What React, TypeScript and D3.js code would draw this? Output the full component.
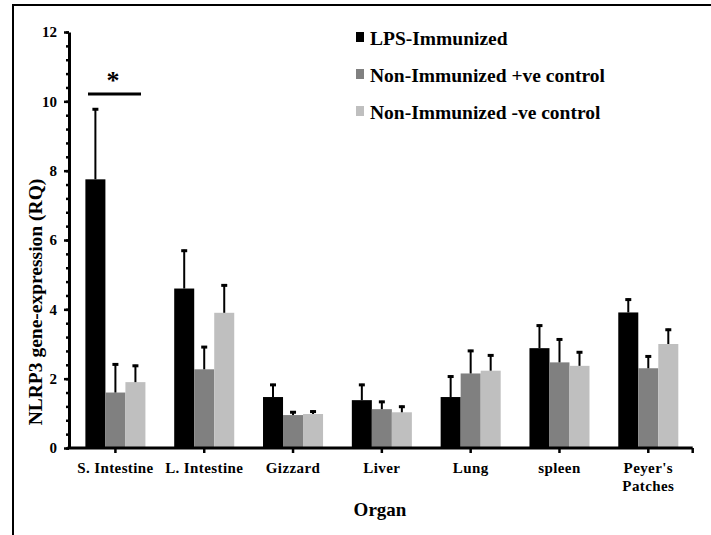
import React, { useEffect, useRef } from 'react';
import * as d3 from 'd3';

const organs = ['S. Intestine', 'L. Intestine', 'Gizzard', 'Liver', 'Lung', 'spleen', "Peyer's Patches"];
const tickLabels = [['S. Intestine'], ['L. Intestine'], ['Gizzard'], ['Liver'], ['Lung'], ['spleen'], ["Peyer's", 'Patches']];

const seriesNames = ['LPS-Immunized', 'Non-Immunized +ve control', 'Non-Immunized -ve control'];
const seriesColors = ['#000000', '#808080', '#bfbfbf'];

const lpsValues = [7.75, 4.6, 1.47, 1.38, 1.47, 2.88, 3.91];
const lpsErrors = [2.05, 1.12, 0.38, 0.47, 0.62, 0.68, 0.4];
const posValues = [1.6, 2.27, 0.95, 1.12, 2.15, 2.47, 2.3];
const posErrors = [0.84, 0.67, 0.11, 0.24, 0.68, 0.69, 0.37];
const negValues = [1.9, 3.9, 0.98, 1.03, 2.23, 2.37, 3.0];
const negErrors = [0.5, 0.82, 0.1, 0.19, 0.47, 0.42, 0.44];

const yMajorTicks = [0, 2, 4, 6, 8, 10, 12];

const App = () => {
  const ref = useRef<SVGSVGElement>(null);

  useEffect(() => {
    const svg = d3.select(ref.current);
    svg.selectAll('*').remove();

    const width = 711;
    const height = 535;
    const font = "'Liberation Serif', 'Times New Roman', serif";

    svg.attr('width', width).attr('height', height);

    // outer frame (top and left only)
    svg.append('path')
      .attr('d', `M13,${height} L13,5 L${width},5`)
      .attr('fill', 'none')
      .attr('stroke', '#000')
      .attr('stroke-width', 2);

    const x = d3.scaleBand()
      .domain(organs)
      .range([71, 692.7])
      .paddingInner(0.324)
      .paddingOuter(0.162);

    const xs = d3.scaleBand()
      .domain(seriesNames)
      .range([0, x.bandwidth()]);

    const y = d3.scaleLinear()
      .domain([0, 12])
      .range([448, 32]);

    const values = [lpsValues, posValues, negValues];
    const errors = [lpsErrors, posErrors, negErrors];

    const rows = organs.flatMap((organ, i) =>
      seriesNames.map((s, j) => ({ organ, s, j, v: values[j][i], e: errors[j][i] }))
    );

    const g = svg.append('g');

    // bars
    g.selectAll('rect.bar')
      .data(rows)
      .enter()
      .append('rect')
      .attr('class', 'bar')
      .attr('x', d => (x(d.organ) as number) + (xs(d.s) as number))
      .attr('y', d => y(d.v))
      .attr('width', xs.bandwidth())
      .attr('height', d => y(0) - y(d.v))
      .attr('fill', d => seriesColors[d.j]);

    // error bars (upper only)
    const cx = (d: any) => (x(d.organ) as number) + (xs(d.s) as number) + xs.bandwidth() / 2;
    g.selectAll('line.err')
      .data(rows)
      .enter()
      .append('line')
      .attr('x1', cx)
      .attr('x2', cx)
      .attr('y1', d => y(d.v))
      .attr('y2', d => y(d.v + d.e))
      .attr('stroke', '#000')
      .attr('stroke-width', 2);

    g.selectAll('line.cap')
      .data(rows)
      .enter()
      .append('line')
      .attr('x1', d => cx(d) - 3)
      .attr('x2', d => cx(d) + 3)
      .attr('y1', d => y(d.v + d.e) + 1)
      .attr('y2', d => y(d.v + d.e) + 1)
      .attr('stroke', '#000')
      .attr('stroke-width', 3);

    // y axis: minor ticks
    const minor = d3.range(0, 12.001, 0.4);
    const yMinor = g.append('g')
      .attr('transform', 'translate(69, 0)')
      .call(d3.axisLeft(y).tickValues(minor).tickSize(3).tickFormat(() => ''));
    yMinor.select('.domain').remove();
    yMinor.selectAll('line').attr('stroke-width', 2.5);

    const yAxis = g.append('g')
      .attr('transform', 'translate(69, 0)')
      .call(d3.axisLeft(y).tickValues(yMajorTicks).tickSize(5).tickSizeOuter(0).tickPadding(7));
    yAxis.select('.domain').attr('stroke-width', 3);
    yAxis.selectAll('line').attr('stroke-width', 2.5);
    yAxis.selectAll('text')
      .attr('font-family', font)
      .attr('font-weight', 'bold')
      .attr('font-size', 15)
      .attr('fill', '#000');

    // x axis
    const xAxis = g.append('g')
      .attr('transform', 'translate(0, 448)');
    xAxis.append('line')
      .attr('x1', 67.5)
      .attr('x2', x.range()[1])
      .attr('stroke', '#000')
      .attr('stroke-width', 3);
    xAxis.selectAll('line.tick')
      .data(organs)
      .enter()
      .append('line')
      .attr('x1', d => (x(d) as number) + x.bandwidth() / 2)
      .attr('x2', d => (x(d) as number) + x.bandwidth() / 2)
      .attr('y1', 0)
      .attr('y2', 5)
      .attr('stroke', '#000')
      .attr('stroke-width', 2.5);
    xAxis.append('line')
      .attr('x1', x.range()[1])
      .attr('x2', x.range()[1])
      .attr('y1', 0)
      .attr('y2', 5)
      .attr('stroke', '#000')
      .attr('stroke-width', 2.5);

    const labels = xAxis.selectAll('text.cat')
      .data(organs)
      .enter()
      .append('text')
      .attr('text-anchor', 'middle')
      .attr('font-family', font)
      .attr('font-weight', 'bold')
      .attr('font-size', 15)
      .attr('letter-spacing', 0.4)
      .attr('fill', '#000');
    labels.each(function (d, i) {
      const t = d3.select(this);
      tickLabels[i].forEach((line, k) => {
        t.append('tspan')
          .attr('x', (x(d) as number) + x.bandwidth() / 2)
          .attr('y', 25 + k * 18)
          .text(line);
      });
    });

    // Axis Labels
    svg.append('text')
      .attr('x', 380)
      .attr('y', 516)
      .attr('text-anchor', 'middle')
      .attr('font-family', font)
      .attr('font-weight', 'bold')
      .attr('font-size', 19)
      .text('Organ');

    svg.append('text')
      .attr('transform', 'translate(41.5, 302) rotate(-90)')
      .attr('text-anchor', 'middle')
      .attr('font-family', font)
      .attr('font-weight', 'bold')
      .attr('font-size', 19.5)
      .text('NLRP3 gene-expression (RQ)');

    // significance marker
    svg.append('line')
      .attr('x1', 88)
      .attr('x2', 141)
      .attr('y1', 94)
      .attr('y2', 94)
      .attr('stroke', '#000')
      .attr('stroke-width', 3);
    svg.append('text')
      .attr('x', 113)
      .attr('y', 89)
      .attr('text-anchor', 'middle')
      .attr('font-family', font)
      .attr('font-weight', 'bold')
      .attr('font-size', 26)
      .text('*');

    // Legend
    const legend = svg.append('g');
    seriesNames.forEach((s, i) => {
      const ly = 45 + i * 37;
      legend.append('rect')
        .attr('x', 356)
        .attr('y', ly - 13)
        .attr('width', 8)
        .attr('height', 10)
        .attr('fill', seriesColors[i]);
      legend.append('text')
        .attr('x', 370)
        .attr('y', ly)
        .attr('font-family', font)
        .attr('font-weight', 'bold')
        .attr('font-size', 19.5)
        .text(s);
    });
  }, []);

  return (
    <div style={{ position: 'fixed', top: 0, left: 0 }}>
      <svg ref={ref} style={{ display: 'block', background: '#fff' }}></svg>
    </div>
  );
};

export default App;
